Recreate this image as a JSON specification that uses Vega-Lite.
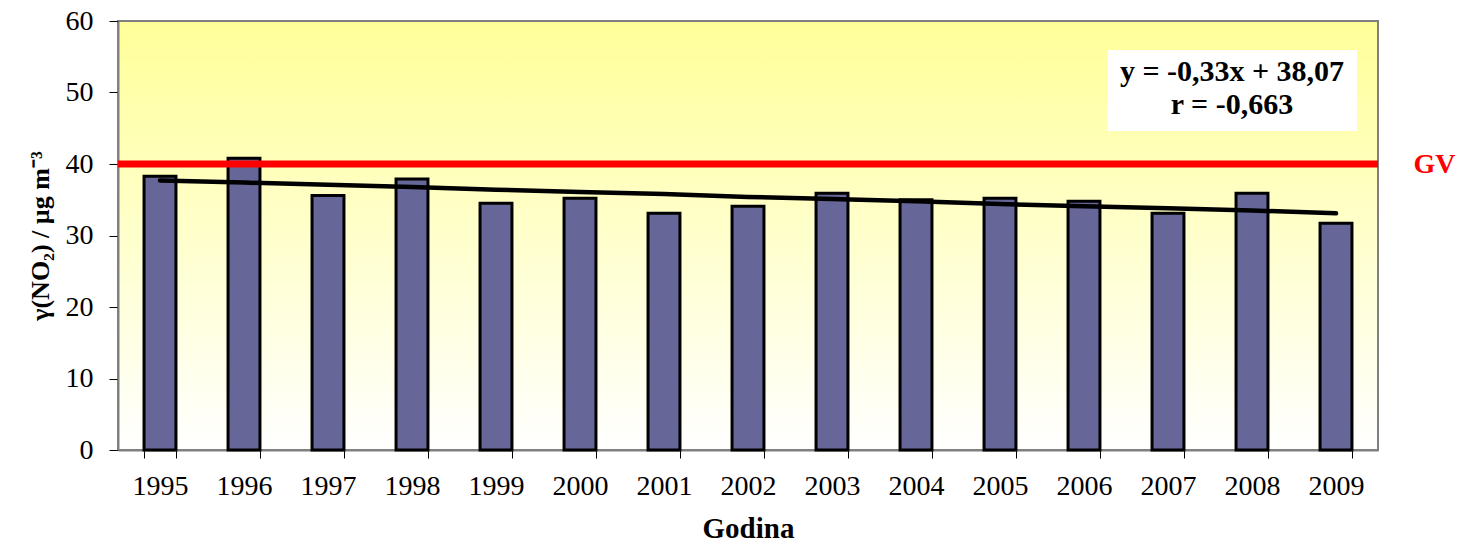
{
  "$schema": "https://vega.github.io/schema/vega-lite/v6.json",
  "width": 1260,
  "height": 429,
  "autosize": "none",
  "padding": {"left": 118, "top": 21, "right": 81, "bottom": 94},
  "background": "white",
  "config": {
    "font": "Liberation Serif",
    "view": {
      "stroke": "#808080",
      "strokeWidth": 2,
      "fill": {
        "gradient": "linear",
        "x1": 0, "y1": 0, "x2": 0, "y2": 1,
        "stops": [
          {"offset": 0, "color": "#FFFF99"},
          {"offset": 1, "color": "#FFFFFF"}
        ]
      }
    }
  },
  "data": {
    "values": [
      {"year": "1995", "value": 38.3, "trend": 37.7},
      {"year": "1996", "value": 40.8, "trend": 37.4},
      {"year": "1997", "value": 35.6, "trend": 37.1},
      {"year": "1998", "value": 37.9, "trend": 36.8},
      {"year": "1999", "value": 34.5, "trend": 36.4},
      {"year": "2000", "value": 35.2, "trend": 36.1},
      {"year": "2001", "value": 33.1, "trend": 35.8},
      {"year": "2002", "value": 34.1, "trend": 35.4},
      {"year": "2003", "value": 35.9, "trend": 35.1},
      {"year": "2004", "value": 35.0, "trend": 34.8},
      {"year": "2005", "value": 35.2, "trend": 34.4},
      {"year": "2006", "value": 34.8, "trend": 34.1},
      {"year": "2007", "value": 33.1, "trend": 33.8},
      {"year": "2008", "value": 35.9, "trend": 33.5},
      {"year": "2009", "value": 31.7, "trend": 33.1}
    ]
  },
  "layer": [
    {
      "mark": {"type": "bar", "color": "#666699", "stroke": "black", "strokeWidth": 3},
      "encoding": {
        "x": {
          "field": "year",
          "type": "ordinal",
          "scale": {"paddingInner": 0.62, "paddingOuter": 0.31},
          "axis": {
            "title": "Godina",
            "titleFontSize": 29,
            "titleFontWeight": "bold",
            "titleColor": "black",
            "titlePadding": 14,
            "labelAngle": 0,
            "labelFontSize": 28,
            "labelColor": "black",
            "labelPadding": 14,
            "tickBand": "extent",
            "tickSize": 8,
            "tickColor": "black",
            "domainColor": "#808080",
            "domainWidth": 2
          }
        },
        "y": {
          "field": "value",
          "type": "quantitative",
          "scale": {"domain": [0, 60], "nice": false},
          "axis": {
            "values": [0, 10, 20, 30, 40, 50, 60],
            "grid": false,
            "tickSize": 9,
            "tickColor": "black",
            "labelPadding": 16,
            "labelFontSize": 28,
            "labelColor": "black",
            "domainColor": "#808080",
            "domainWidth": 2,
            "title": "γ(NO₂) / µg m⁻³",
            "titleFontSize": 26,
            "titleFontWeight": "bold",
            "titleColor": "black",
            "titlePadding": 12
          }
        }
      }
    },
    {
      "mark": {"type": "line", "color": "black", "strokeWidth": 4.5, "strokeCap": "round"},
      "encoding": {
        "x": {"field": "year", "type": "ordinal"},
        "y": {"field": "trend", "type": "quantitative", "axis": null}
      }
    },
    {
      "data": {"values": [{"gv": 40}]},
      "mark": {"type": "rule", "color": "#FF0000", "strokeWidth": 7},
      "encoding": {
        "y": {
          "field": "gv",
          "type": "quantitative",
          "axis": {
            "orient": "right",
            "values": [40],
            "labelExpr": "'GV'",
            "domain": false,
            "ticks": false,
            "grid": false,
            "title": null,
            "labelColor": "#FF0000",
            "labelFontWeight": "bold",
            "labelFontSize": 28,
            "labelPadding": 35
          }
        }
      }
    },
    {
      "data": {"values": [{"y1": 44.6, "y2": 55.94}]},
      "mark": {"type": "rect", "color": "white"},
      "encoding": {
        "x": {"datum": "2006", "type": "ordinal", "bandPosition": 1.252},
        "x2": {"datum": "2009", "bandPosition": 1.158},
        "y": {"field": "y1", "type": "quantitative", "axis": null},
        "y2": {"field": "y2"}
      }
    },
    {
      "data": {"values": [
        {"eq": "y = -0,33x + 38,07", "ty": 52.9},
        {"eq": "r = -0,663", "ty": 48.25}
      ]},
      "mark": {"type": "text", "fontSize": 30, "fontWeight": "bold", "color": "black", "align": "center", "baseline": "middle"},
      "encoding": {
        "x": {"datum": "2008", "type": "ordinal", "bandPosition": -0.127},
        "y": {"field": "ty", "type": "quantitative", "axis": null},
        "text": {"field": "eq"}
      }
    }
  ],
  "resolve": {"axis": {"y": "independent"}}
}
